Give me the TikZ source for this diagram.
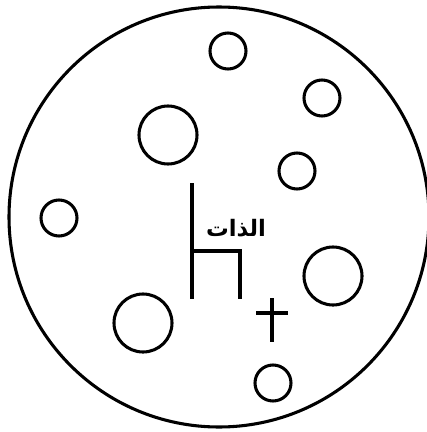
\documentclass[tikz,border=0pt]{standalone}
\usepackage{fontspec}
\TeXXeTstate=1
\newfontfamily\arabicfont[Script=Arabic]{DejaVu Sans}
\begin{document}
\begin{tikzpicture}[x=0.75pt, y=-0.75pt, line width=2.3pt, line cap=butt, line join=miter]
				\useasboundingbox (0,0) rectangle (427,432);
				\draw (219,217) circle[radius=210];
				\draw (228,51) circle[radius=18];
				\draw (322,98) circle[radius=18];
				\draw (168,135) circle[radius=29];
				\draw (297,171) circle[radius=18];
				\draw (59,218) circle[radius=18];
				\draw (333,276) circle[radius=29];
				\draw (143,323) circle[radius=29];
				\draw (273,383) circle[radius=18];
				\draw (192,183) -- (192,299) (192,251) -- (240,251) -- (240,299);
				\draw (256,313) -- (288,313) (272,298) -- (272,342);
				\node[font=\arabicfont\bfseries\fontsize{17}{20}\selectfont, inner sep=0pt] (self) at (236,228) {\beginR الذات\endR};
			\end{tikzpicture}
\end{document}
